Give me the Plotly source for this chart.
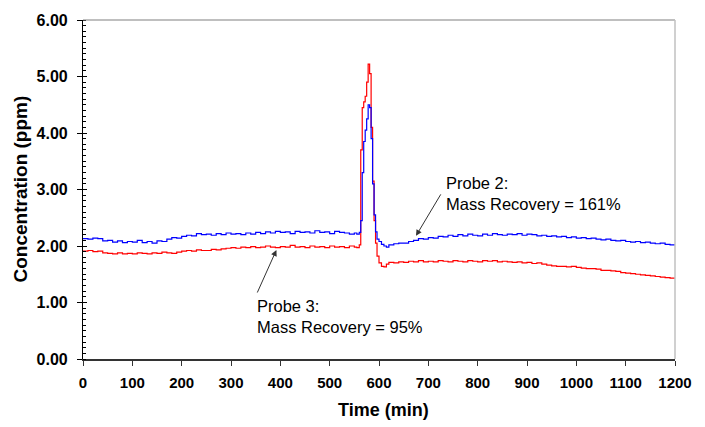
import plotly.graph_objects as go

# ---- data ----
time_pre = list(range(0, 551, 10))
time_peak = [555, 560, 563, 566, 569, 572, 575, 578, 581, 584, 587, 590, 593, 596, 600, 605, 610, 615, 620]
time_post = list(range(630, 1201, 10))
time_min = time_pre + time_peak + time_post

probe2_pre = [2.13, 2.12, 2.14, 2.13, 2.09, 2.10, 2.07, 2.09, 2.06, 2.08,
              2.07, 2.10, 2.06, 2.08, 2.05, 2.09, 2.08, 2.12, 2.15, 2.14,
              2.17, 2.19, 2.18, 2.22, 2.20, 2.21, 2.19, 2.22, 2.20, 2.23,
              2.21, 2.22, 2.20, 2.23, 2.21, 2.24, 2.22, 2.25, 2.23, 2.26,
              2.24, 2.25, 2.22, 2.26, 2.24, 2.25, 2.23, 2.27, 2.24, 2.25,
              2.22, 2.26, 2.24, 2.23, 2.21, 2.23]
probe2_peak = [2.21, 2.24, 2.45, 3.30, 3.85, 4.05, 4.25, 4.50, 4.45, 3.90,
               3.10, 2.55, 2.25, 2.12, 2.08, 2.03, 2.00, 1.98, 2.02]
probe2_post = [2.04, 2.05, 2.05, 2.08, 2.10, 2.13, 2.12,
               2.15, 2.14, 2.17, 2.16, 2.19, 2.17, 2.20, 2.18, 2.21, 2.19,
               2.18, 2.21, 2.19, 2.22, 2.20, 2.19, 2.21, 2.20, 2.22, 2.19,
               2.21, 2.20, 2.18, 2.19, 2.17, 2.18, 2.16, 2.17, 2.15, 2.16,
               2.14, 2.15, 2.13, 2.14, 2.12, 2.11, 2.12, 2.10, 2.09, 2.10,
               2.08, 2.07, 2.08, 2.06, 2.07, 2.05, 2.04, 2.05, 2.03, 2.02,
               2.01]
probe2 = probe2_pre + probe2_peak + probe2_post

probe3_pre = [1.91, 1.92, 1.90, 1.91, 1.88, 1.87, 1.86, 1.88, 1.86, 1.87,
              1.86, 1.88, 1.87, 1.86, 1.88, 1.87, 1.89, 1.88, 1.87, 1.89,
              1.91, 1.92, 1.91, 1.93, 1.92, 1.92, 1.94, 1.93, 1.95, 1.96,
              1.97, 1.96, 1.98, 1.97, 1.99, 1.97, 1.98, 2.00, 1.98, 1.97,
              1.99, 1.98, 2.01, 1.98, 1.99, 1.97, 2.00, 1.98, 1.99, 1.97,
              2.00, 1.98, 1.99, 1.97, 2.00, 1.98]
probe3_peak = [1.97, 2.02, 3.70, 4.45, 4.55, 4.65, 4.90, 5.22, 5.05, 4.10,
               3.15, 2.45, 2.05, 1.82, 1.70, 1.64, 1.63, 1.68, 1.71]
probe3_post = [1.70, 1.72, 1.71, 1.73, 1.72, 1.74, 1.72,
               1.73, 1.72, 1.74, 1.73, 1.72, 1.74, 1.73, 1.72, 1.74, 1.73,
               1.72, 1.74, 1.73, 1.74, 1.72, 1.73, 1.72, 1.71, 1.72, 1.70,
               1.71, 1.69, 1.70, 1.68, 1.66, 1.65, 1.64, 1.64, 1.63, 1.64,
               1.62, 1.61, 1.60, 1.60, 1.59, 1.57, 1.57, 1.56, 1.55, 1.53,
               1.52, 1.51, 1.50, 1.49, 1.48, 1.47, 1.46, 1.45, 1.44, 1.43,
               1.42]
probe3 = probe3_pre + probe3_peak + probe3_post

x_ticks = list(range(0, 1201, 100))
y_ticks = [0, 1, 2, 3, 4, 5, 6]

FONT = "Arial, Liberation Sans, sans-serif"

fig = go.Figure()
fig.add_trace(go.Scatter(x=time_min, y=probe3, mode="lines", name="Probe 3",
                         line=dict(color="#FF0000", width=1.2, shape="hv")))
fig.add_trace(go.Scatter(x=time_min, y=probe2, mode="lines", name="Probe 2",
                         line=dict(color="#0000FF", width=1.2, shape="hv")))
# invisible helper trace on the overlay axis (for the inner half of major y ticks)
fig.add_trace(go.Scatter(x=[0], y=[0], yaxis="y2", mode="markers",
                         marker=dict(opacity=0), hoverinfo="skip", showlegend=False))

fig.update_layout(
    width=705, height=427,
    margin=dict(l=83, r=30, t=14, b=68),
    paper_bgcolor="white", plot_bgcolor="white",
    showlegend=False,
    font=dict(family=FONT, color="black"),
    xaxis=dict(range=[0, 1200], tickvals=x_ticks, showgrid=False, zeroline=False,
               showline=True, linecolor="#333333", linewidth=1.5,
               ticks="outside", ticklen=5, tickcolor="#333333",
               tickfont=dict(size=15, family=FONT, weight="bold"), ticklabelstandoff=4),
    yaxis=dict(range=[0, 6], tickvals=y_ticks, tickformat=".2f", showgrid=False, zeroline=False,
               showline=True, linecolor="black", linewidth=1.2,
               ticks="outside", ticklen=5, tickcolor="black",
               tickfont=dict(size=16, family=FONT, weight="bold"), ticklabelstandoff=6,
               minor=dict(dtick=0.1, ticks="inside", ticklen=3, tickcolor="black")),
    yaxis2=dict(range=[0, 6], tickvals=y_ticks, overlaying="y", side="left",
                showgrid=False, zeroline=False, showline=False, showticklabels=False,
                ticks="inside", ticklen=4, tickcolor="black"),
    shapes=[
        dict(type="line", xref="paper", yref="paper", x0=0, x1=1, y0=1, y1=1,
             line=dict(color="#808080", width=1.2)),
        dict(type="line", xref="paper", yref="paper", x0=1, x1=1, y0=0, y1=1,
             line=dict(color="#C0C0C0", width=1.5)),
    ],
    annotations=[
        dict(text="Concentration (ppm)", xref="paper", yref="paper", x=-0.1064, y=0.5,
             textangle=-90, showarrow=False, xanchor="center", yanchor="middle",
             font=dict(size=19, family=FONT, weight="bold")),
        dict(text="Time (min)", xref="paper", yref="paper", x=0.507, y=-0.151,
             showarrow=False, xanchor="center", yanchor="middle",
             font=dict(size=18, family=FONT, weight="bold")),
        dict(text="Probe 2:<br>Mass Recovery = 161%", x=731, y=2.93, xref="x", yref="y",
             showarrow=False, xanchor="left", yanchor="middle", align="left",
             font=dict(size=16.5, family=FONT)),
        dict(text="Probe 3:<br>Mass Recovery = 95%", x=348, y=0.75, xref="x", yref="y",
             showarrow=False, xanchor="left", yanchor="middle", align="left",
             font=dict(size=16.5, family=FONT)),
        dict(text="", x=675, y=2.18, ax=727, ay=2.94, xref="x", yref="y",
             axref="x", ayref="y", showarrow=True, arrowhead=2, arrowsize=1.2,
             arrowwidth=1, arrowcolor="#333333", standoff=0),
        dict(text="", x=392, y=1.93, ax=352, ay=1.15, xref="x", yref="y",
             axref="x", ayref="y", showarrow=True, arrowhead=2, arrowsize=1.2,
             arrowwidth=1, arrowcolor="#333333", standoff=0),
    ],
)

fig.write_html("out.html")
